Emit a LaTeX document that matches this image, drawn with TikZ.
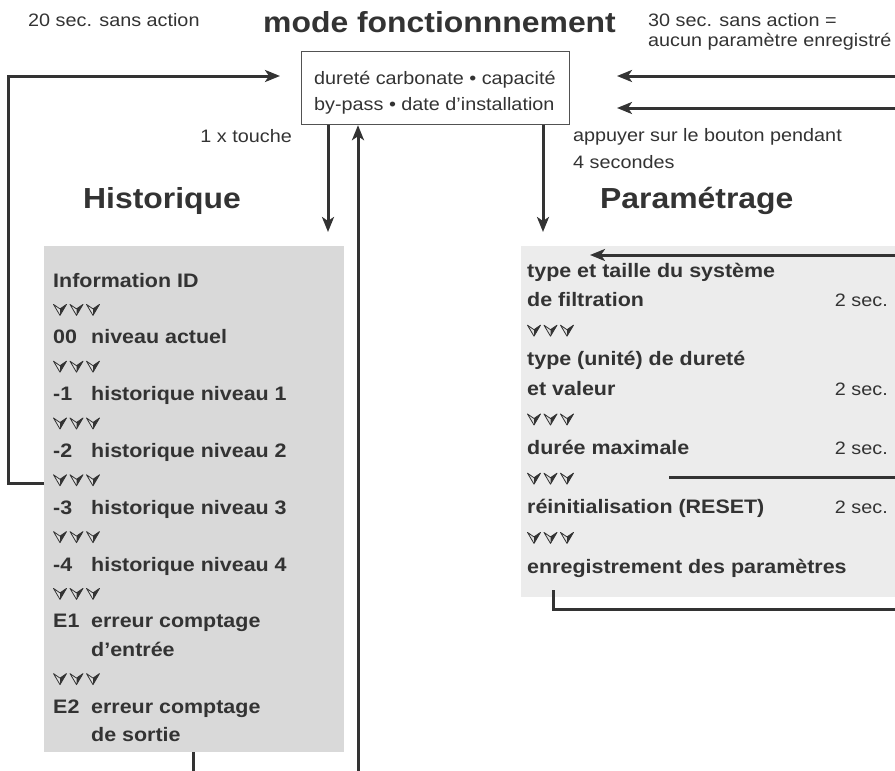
\documentclass[tikz,border=0pt]{standalone}
\usepackage{fontspec}
\setmainfont[FakeStretch=1.1]{Liberation Sans}
\usetikzlibrary{arrows.meta}
\definecolor{ink}{HTML}{333333}
\definecolor{histgray}{HTML}{D9D9D9}
\definecolor{paramgray}{HTML}{ECECEC}
\tikzset{
  conn/.style={draw=ink, line width=3pt},
  arr/.style={conn, -{Stealth[length=15pt,width=12pt,inset=4pt]}},
  lbl/.style={anchor=base west, inner sep=0pt, text=ink, font=\fontsize{18}{22}\selectfont},
  head/.style={anchor=base west, inner sep=0pt, text=ink, font=\fontsize{29}{34}\selectfont\bfseries},
  item/.style={anchor=base west, inner sep=0pt, text=ink, font=\fontsize{19.5}{23}\selectfont\bfseries},
  secs/.style={anchor=base east, inner sep=0pt, text=ink, font=\fontsize{18}{22}\selectfont},
  vmark/.pic={
    \filldraw[draw=ink, fill=white!75!gray, line width=0.8pt, line join=round] (-6.5,-11)--(0,0)--(6.5,-11)--(0,-6.5)--cycle;
    \fill[ink] (0,-6.5)--(6.5,-11)--(0,0)--cycle;
  },
  vrow/.pic={
    \pic at (0,0) {vmark};
    \pic at (16.5,0) {vmark};
    \pic at (33,0) {vmark};
  }
}
\begin{document}
\begin{tikzpicture}[x=1pt,y=-1pt]
\useasboundingbox (0,0) rectangle (895,771);
\clip (0,0) rectangle (895,771);
\fill[white] (0,0) rectangle (895,771);

% headings and annotations
\node[lbl] (t20) at (28,27) {20 sec. sans action};
\node[head] (title) at (263,32) {mode fonctionnnement};
\node[lbl] (t30a) at (648,27) {30 sec. sans action =};
\node[lbl] (t30b) at (648,46) {aucun paramètre enregistré};

% mode box
\node[draw=ink!85, line width=1.2pt, fill=white, minimum width=268pt, minimum height=73pt, anchor=north west, inner sep=0pt] (box) at (301,51) {};
\node[lbl] (bx1) at (314,84) {dureté carbonate • capacité};
\node[lbl] (bx2) at (314,110) {by-pass • date d’installation};

\node[lbl, anchor=base east] (touche) at (292,142) {1 x touche};
\node[lbl] (app1) at (573,141) {appuyer sur le bouton pendant};
\node[lbl] (app2) at (573,168) {4 secondes};

\node[head] (histhead) at (83,208) {Historique};
\node[head] (paramhead) at (600,208) {Paramétrage};

% grey boxes
\node[fill=histgray, minimum width=300pt, minimum height=506pt, anchor=north west, inner sep=0pt] (hist) at (44,246) {};
\node[fill=paramgray, minimum width=400pt, minimum height=351pt, anchor=north west, inner sep=0pt] (param) at (521,246) {};

% Historique items (baseline 287, step 28.4)
\node[item] (i0) at (53,287) {Information ID};
\pic at (60,315.4) {vrow};
\node[item] (i2a) at (53,343.8) {00};
\node[item] (i2b) at (91,343.8) {niveau actuel};
\pic at (60,372.2) {vrow};
\node[item] (i4a) at (53,400.6) {-1};
\node[item] (i4b) at (91,400.6) {historique niveau 1};
\pic at (60,429) {vrow};
\node[item] (i6a) at (53,457.4) {-2};
\node[item] (i6b) at (91,457.4) {historique niveau 2};
\pic at (60,485.8) {vrow};
\node[item] (i8a) at (53,514.2) {-3};
\node[item] (i8b) at (91,514.2) {historique niveau 3};
\pic at (60,542.6) {vrow};
\node[item] (i10a) at (53,571) {-4};
\node[item] (i10b) at (91,571) {historique niveau 4};
\pic at (60,599.4) {vrow};
\node[item] (i12a) at (53,627.8) {E1};
\node[item] (i12b) at (91,627.8) {erreur comptage};
\node[item] (i13b) at (91,656.2) {d’entrée};
\pic at (60,684.6) {vrow};
\node[item] (i15a) at (53,713) {E2};
\node[item] (i15b) at (91,713) {erreur comptage};
\node[item] (i16b) at (91,741.4) {de sortie};

% Parametrage items (baseline 277, step 29.6)
\node[item] (p0) at (527,277) {type et taille du système};
\node[item] (p1) at (527,306.6) {de filtration};
\node[secs] (s1) at (888,306.6) {2 sec.};
\pic at (534,336.2) {vrow};
\node[item] (p3) at (527,365.8) {type (unité) de dureté};
\node[item] (p4) at (527,395.4) {et valeur};
\node[secs] (s4) at (888,395.4) {2 sec.};
\pic at (534,425) {vrow};
\node[item] (p6) at (527,454.6) {durée maximale};
\node[secs] (s6) at (888,454.6) {2 sec.};
\pic at (534,484.2) {vrow};
\node[item] (p8) at (527,513.8) {réinitialisation (RESET)};
\node[secs] (s8) at (888,513.8) {2 sec.};
\pic at (534,543.4) {vrow};
\node[item] (p10) at (527,573) {enregistrement des paramètres};

% helper coordinates
\coordinate (Lin) at (280,76);
\coordinate (Lc1) at (8,76);
\coordinate (Lc2) at (8,483);
\coordinate (R1) at (895,76);
\coordinate (R1e) at (617,76);
\coordinate (R2) at (895,108);
\coordinate (R2e) at (617,108);
\coordinate (D1) at (328,232);
\coordinate (U1) at (358,771);
\coordinate (D2) at (543,232);
\coordinate (HB) at (193,771);
\coordinate (PR) at (895,255);
\coordinate (PRe) at (590,255);
\coordinate (PM) at (895,477);
\coordinate (PMe) at (669,477);
\coordinate (PB1) at (553,590);
\coordinate (PB2) at (553,609);
\coordinate (PB3) at (895,609);

% connectors
\draw[arr] (hist.west |- Lc2) -- (Lc2) -- (Lc1) -- (Lin);
\draw[arr] (R1) -- (R1e);
\draw[arr] (R2) -- (R2e);
\draw[arr] (box.south -| D1) -- (D1);
\draw[arr] (U1) -- (box.south -| U1);
\draw[arr] (box.south -| D2) -- (D2);
\draw[conn] (hist.south -| HB) -- (HB);
\draw[arr] (PR) -- (PRe);
\draw[conn] (PM) -- (PMe);
\draw[conn] (PB1) -- (PB2) -- (PB3);
\end{tikzpicture}
\end{document}
